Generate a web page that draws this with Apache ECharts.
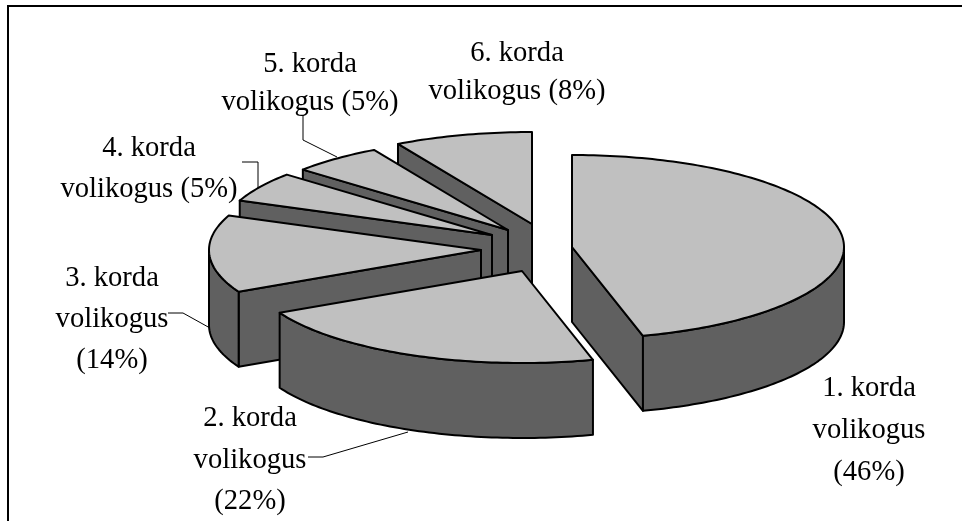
<!DOCTYPE html>
<html>
<head>
<meta charset="utf-8">
<title>volikogus</title>
<style>
  html, body { margin: 0; padding: 0; background: #fff; }
  #main { width: 962px; height: 521px; }
</style>
<script src="https://cdn.jsdelivr.net/npm/echarts@6/dist/echarts.min.js"></script>
</head>
<body>
<div id="main"></div>
<script>
// shares are estimated from the slice angles, the labels show them rounded
var categories = ['1. korda', '2. korda', '3. korda', '4. korda', '5. korda', '6. korda'];
var shares = [45.8, 21.7, 13.6, 5.3, 5.4, 8.2];
var sliceLabels = [
  '1. korda\nvolikogus\n(46%)',
  '2. korda\nvolikogus\n(22%)',
  '3. korda\nvolikogus\n(14%)',
  '4. korda\nvolikogus (5%)',
  '5. korda\nvolikogus (5%)',
  '6. korda\nvolikogus (8%)'
];

// layout of the fake 3d pie, nothing here is data
var RX = 272, RY = 92, DEPTH = 75;
var apexes = [[572, 247], [522, 271], [481, 250], [492, 235], [508, 230], [532, 224]];
var labelAnchors = [[869, 367], [250, 398], [112, 258], [149, 128], [310, 45], [517, 34]];
var lineHeights = [42, 41.5, 41, 41, 38, 38];
var leaders = [
  null,
  [[308, 457], [323, 457], [408, 432]],
  [[168, 313], [183, 313], [210, 328]],
  [[242, 162], [258, 162], [258, 188]],
  [[303, 115], [303, 140], [337, 157]],
  null
];

var TOP_COLOR = '#c0c0c0';
var WALL_COLOR = '#606060';
var total = shares.reduce(function (a, b) { return a + b; }, 0);

// start and end angle of every slice, clockwise from 12 o'clock, in radians
var angles = [];
shares.reduce(function (sum, v) {
  angles.push([sum / total * Math.PI * 2, (sum + v) / total * Math.PI * 2]);
  return sum + v;
}, 0);

function rim(c, a) {
  return [c[0] + RX * Math.sin(a), c[1] - RY * Math.cos(a)];
}

function arcPoints(c, from, to) {
  var pts = [];
  var steps = Math.max(2, Math.ceil((to - from) / 0.02));
  for (var i = 0; i <= steps; i++) {
    pts.push(rim(c, from + (to - from) * i / steps));
  }
  return pts;
}

function down(p) {
  return [p[0], p[1] + DEPTH];
}

function poly(points, fill) {
  return {
    type: 'polygon',
    shape: { points: points },
    style: { fill: fill, stroke: '#000', lineWidth: 2, lineJoin: 'round' }
  };
}

function renderSlice(params, api) {
  var idx = api.value(0);
  var c = apexes[idx];
  var a0 = angles[idx][0];
  var a1 = angles[idx][1];
  var children = [];

  // radial wall, only the ones turned to the viewer
  if (Math.sin(a0) < -1e-6) {
    var s = rim(c, a0);
    children.push(poly([c, s, down(s), down(c)], WALL_COLOR));
  }
  if (Math.sin(a1) > 1e-6) {
    var e = rim(c, a1);
    children.push(poly([c, e, down(e), down(c)], WALL_COLOR));
  }

  // outer wall, front half of the ellipse
  var from = Math.max(a0, Math.PI / 2);
  var to = Math.min(a1, Math.PI * 1.5);
  if (to > from) {
    var arc = arcPoints(c, from, to);
    children.push(poly(arc.concat(arc.map(down).reverse()), WALL_COLOR));
  }

  children.push(poly([c].concat(arcPoints(c, a0, a1)), TOP_COLOR));

  return { type: 'group', children: children };
}

function renderLabel(params, api) {
  var idx = api.value(0);
  var children = [{
    type: 'text',
    style: {
      x: labelAnchors[idx][0],
      y: labelAnchors[idx][1],
      text: sliceLabels[idx],
      fill: '#000',
      font: '28.6px "Liberation Serif"',
      lineHeight: lineHeights[idx],
      align: 'center',
      verticalAlign: 'top'
    }
  }];
  if (leaders[idx]) {
    children.push({
      type: 'polyline',
      shape: { points: leaders[idx] },
      style: { fill: 'none', stroke: '#000', lineWidth: 1 }
    });
  }
  return { type: 'group', children: children };
}

var chart = echarts.init(document.getElementById('main'), null, { renderer: 'canvas' });

// painted from slice 6 to slice 1 so the front pieces cover the back ones
var paintOrder = shares.map(function (v, i) { return [i, v, categories[i]]; }).reverse();

chart.setOption({
  animation: false,
  backgroundColor: '#fff',
  graphic: [{
    type: 'polyline',
    shape: { points: [[8, 521], [8, 6], [962, 6]] },
    style: { fill: 'none', stroke: '#000', lineWidth: 2 },
    silent: true
  }],
  series: [
    {
      type: 'custom',
      coordinateSystem: 'none',
      renderItem: renderSlice,
      data: paintOrder,
      silent: true
    },
    {
      type: 'custom',
      coordinateSystem: 'none',
      renderItem: renderLabel,
      data: paintOrder,
      silent: true
    }
  ]
});
</script>
</body>
</html>
